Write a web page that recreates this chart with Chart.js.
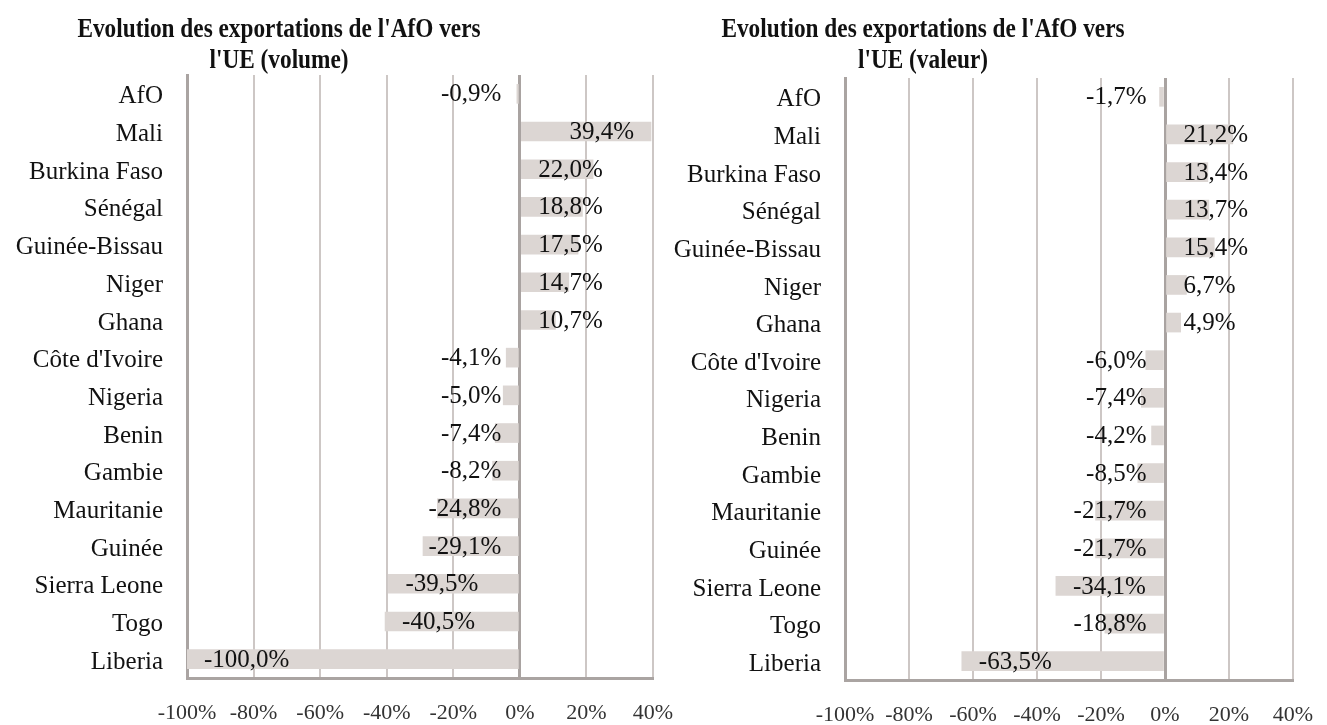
<!DOCTYPE html>
<html>
<head>
<meta charset="utf-8">
<script src="https://cdn.jsdelivr.net/npm/chart.js@4.4.1/dist/chart.umd.min.js"></script>
<style>
    body { margin: 0; background: #fff; }
    .cadre { position: absolute; left: 0; top: 0; width: 1327px; height: 725px; }
</style>
</head>
<body>
<div class="cadre"><canvas id="volumeChart"></canvas></div>
<div class="cadre"><canvas id="valeurChart"></canvas></div>
<script>
// Données
const pays = ["AfO", "Mali", "Burkina Faso", "Sénégal", "Guinée-Bissau", "Niger", "Ghana",
    "Côte d'Ivoire", "Nigeria", "Benin", "Gambie", "Mauritanie", "Guinée", "Sierra Leone", "Togo", "Liberia"];
const evolVolume = [-0.9, 39.4, 22.0, 18.8, 17.5, 14.7, 10.7, -4.1, -5.0, -7.4, -8.2, -24.8, -29.1, -39.5, -40.5, -100.0];
const evolValeur = [-1.7, 21.2, 13.4, 13.7, 15.4, 6.7, 4.9, -6.0, -7.4, -4.2, -8.5, -21.7, -21.7, -34.1, -18.8, -63.5];
const graduations = [-100, -80, -60, -40, -20, 0, 20, 40];
const titreVolume = ["Evolution des exportations de l'AfO vers", "l'UE (volume)"];
const titreValeur = ["Evolution des exportations de l'AfO vers", "l'UE (valeur)"];

const serif = "'Liberation Serif', 'Times New Roman', serif";

function formatPct(v) {
    return v.toFixed(1).replace(".", ",") + "%";
}

// titre centré sur une position donnée (comme dans le document d'origine)
const titrePlugin = {
    id: "titreCentre",
    afterDraw(chart, args, opts) {
        const ctx = chart.ctx;
        ctx.font = "bold 23.3px " + serif;
        ctx.fillStyle = "#111";
        ctx.textAlign = "center";
        ctx.textBaseline = "alphabetic";
        opts.lignes.forEach((l, i) => {
            ctx.save();
            ctx.translate(opts.x, opts.y + i * 31);
            ctx.scale(1, 1.15); // texte un peu étiré en hauteur, comme l'original
            ctx.fillText(l, 0, 0);
            ctx.restore();
        });
    }
};

// étiquettes de données façon Excel "bord intérieur"
const etiquettesPlugin = {
    id: "etiquettes",
    afterDatasetsDraw(chart) {
        const ctx = chart.ctx;
        const pad = 17;
        ctx.save();
        ctx.font = "25px " + serif;
        ctx.fillStyle = "#111";
        ctx.textBaseline = "middle";
        chart.getDatasetMeta(0).data.forEach((bar, i) => {
            const v = chart.data.datasets[0].data[i];
            const txt = formatPct(v);
            const w = ctx.measureText(txt).width;
            const len = Math.abs(bar.x - bar.base);
            let x;
            if (w + 2 * pad <= len) {
                if (v >= 0) { ctx.textAlign = "right"; x = bar.x - pad; }
                else { ctx.textAlign = "left"; x = bar.x + pad; }
            } else {
                if (v >= 0) { ctx.textAlign = "left"; x = bar.base + pad; }
                else { ctx.textAlign = "right"; x = bar.base - pad; }
            }
            ctx.fillText(txt, x, bar.y + 1);
        });
        ctx.restore();
    }
};

function creerGraphique(id, valeurs, titre, cfg) {
    const el = document.getElementById(id);
    return new Chart(el.getContext("2d"), {
        type: "bar",
        data: {
            labels: pays,
            datasets: [{
                data: valeurs,
                backgroundColor: "#dcd6d3",
                borderWidth: 0,
                barThickness: 19,
            }],
        },
        plugins: [titrePlugin, etiquettesPlugin],
        options: {
            indexAxis: "y",
            responsive: true,
            maintainAspectRatio: false,
            animation: false,
            layout: { padding: { left: 0, right: cfg.right, top: cfg.top, bottom: 0 } },
            plugins: {
                legend: { display: false },
                tooltip: { enabled: false },
                titreCentre: { lignes: titre, x: cfg.titreX, y: 37 },
            },
            scales: {
                x: {
                    type: "linear",
                    min: -100,
                    max: 40,
                    afterBuildTicks: s => { s.ticks = graduations.map(v => ({ value: v })); },
                    afterFit: s => {
                        s.height = 725 - cfg.bottom;
                        s.paddingLeft = 0;
                        s.paddingRight = 0;
                    },
                    ticks: {
                        callback: v => v + "%",
                        font: { family: serif, size: 22 },
                        color: "#333",
                        padding: 22,
                        maxRotation: 0,
                    },
                    grid: {
                        drawTicks: false,
                        color: c => (c.tick && c.tick.value === 0 ? "#a9a3a1" : "#cdc7c5"),
                        lineWidth: c => (c.tick && c.tick.value === 0 ? 3 : 2),
                    },
                    border: { display: true, color: "#aaa4a2", width: 3 },
                },
                y: {
                    afterFit: s => { s.width = cfg.left; },
                    ticks: {
                        font: { family: serif, size: 25 },
                        color: "#111",
                        padding: 24,
                        labelOffset: 3,
                        autoSkip: false,
                    },
                    grid: { display: false, drawTicks: false },
                    border: { display: true, color: "#aaa4a2", width: 3 },
                },
            },
        },
    });
}

document.addEventListener("DOMContentLoaded", function () {
    creerGraphique("volumeChart", evolVolume, titreVolume,
        { left: 187, right: 1327 - 653, top: 75, bottom: 678, titreX: 279 });
    creerGraphique("valeurChart", evolValeur, titreValeur,
        { left: 845, right: 1327 - 1293, top: 78, bottom: 680, titreX: 923 });
});
</script>
</body>
</html>
